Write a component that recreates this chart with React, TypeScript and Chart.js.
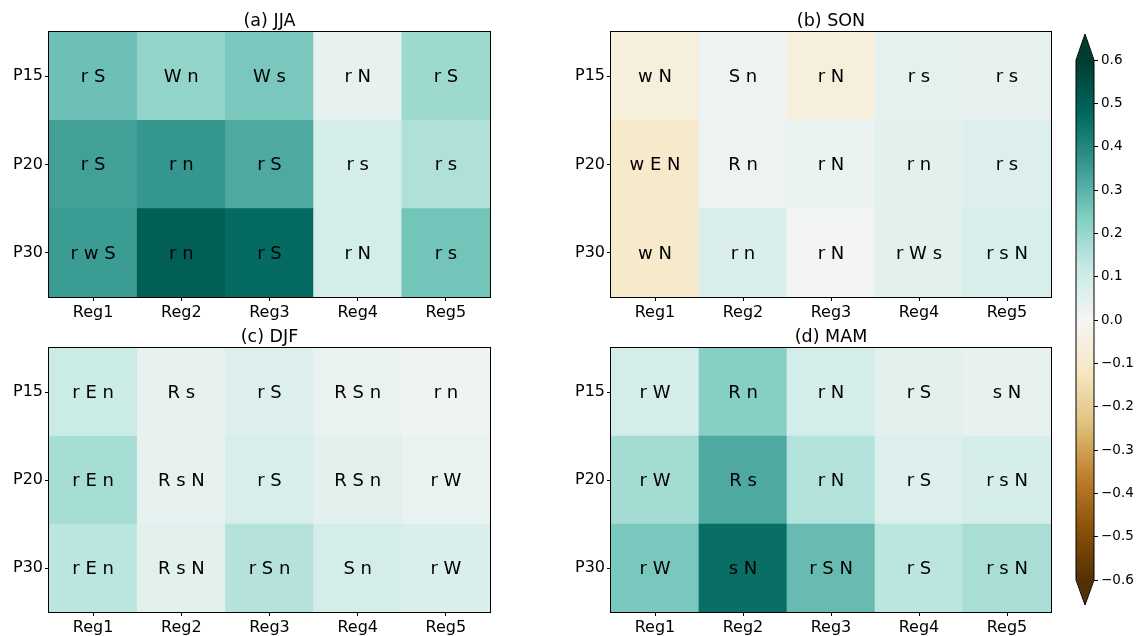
import React, { useEffect, useRef } from 'react';
import { Chart, registerables } from 'chart.js';

Chart.register(...registerables);

// ---------- data ----------
const regions = ['Reg1', 'Reg2', 'Reg3', 'Reg4', 'Reg5'];
const periods = ['P15', 'P20', 'P30'];

// rows: P15, P20, P30 ; columns: Reg1..Reg5
const jjaValues = [
  [0.27, 0.21, 0.25, 0.04, 0.19],
  [0.34, 0.36, 0.32, 0.08, 0.16],
  [0.35, 0.50, 0.47, 0.09, 0.26],
];
const jjaMarks = [
  ['r S', 'W n', 'W s', 'r N', 'r S'],
  ['r S', 'r n', 'r S', 'r s', 'r s'],
  ['r w S', 'r n', 'r S', 'r N', 'r s'],
];

const sonValues = [
  [-0.06, 0.02, -0.06, 0.045, 0.04],
  [-0.10, 0.02, 0.025, 0.05, 0.065],
  [-0.10, 0.07, 0.005, 0.05, 0.075],
];
const sonMarks = [
  ['w N', 'S n', 'r N', 'r s', 'r s'],
  ['w E N', 'R n', 'r N', 'r n', 'r s'],
  ['w N', 'r n', 'r N', 'r W s', 'r s N'],
];

const djfValues = [
  [0.11, 0.04, 0.065, 0.03, 0.015],
  [0.175, 0.04, 0.075, 0.05, 0.035],
  [0.14, 0.05, 0.15, 0.085, 0.07],
];
const djfMarks = [
  ['r E n', 'R s', 'r S', 'R S n', 'r n'],
  ['r E n', 'R s N', 'r S', 'R S n', 'r W'],
  ['r E n', 'R s N', 'r S n', 'S n', 'r W'],
];

const mamValues = [
  [0.085, 0.23, 0.085, 0.05, 0.04],
  [0.18, 0.32, 0.155, 0.065, 0.08],
  [0.25, 0.46, 0.28, 0.14, 0.17],
];
const mamMarks = [
  ['r W', 'R n', 'r N', 'r S', 's N'],
  ['r W', 'R s', 'r N', 'r S', 'r s N'],
  ['r W', 's N', 'r S N', 'r S', 'r s N'],
];

const vMin = -0.6;
const vMax = 0.6;
const cbarStep = 0.1;

// BrBG colour map control colours
const brbgStops = [
  [84, 48, 5], [140, 81, 10], [191, 129, 45], [223, 194, 125], [246, 232, 195],
  [245, 245, 245], [199, 234, 229], [128, 205, 193], [53, 151, 143], [1, 102, 94], [0, 60, 48],
];

// ---------- helpers ----------
const W = 1137;
const H = 636;
const FONT = "'DejaVu Sans', 'Noto Sans', sans-serif";

function brbgAt(t: number): string {
  const tt = Math.max(0, Math.min(1, t));
  const pos = tt * (brbgStops.length - 1);
  const i = Math.min(brbgStops.length - 2, Math.floor(pos));
  const f = pos - i;
  const a = brbgStops[i];
  const b = brbgStops[i + 1];
  const c = a.map((av, k) => Math.round(av + (b[k] - av) * f));
  return `rgb(${c[0]},${c[1]},${c[2]})`;
}
function colorFor(v: number): string {
  return brbgAt((v - vMin) / (vMax - vMin));
}

const cellTextPlugin = {
  id: 'cellText',
  afterDatasetsDraw(chart: any) {
    const ctx = chart.ctx;
    ctx.save();
    ctx.fillStyle = '#000';
    ctx.font = `18px ${FONT}`;
    ctx.textAlign = 'center';
    ctx.textBaseline = 'middle';
    chart.data.datasets.forEach((ds: any, di: number) => {
      const meta = chart.getDatasetMeta(di);
      meta.data.forEach((bar: any, i: number) => {
        const p = bar.getProps(['x', 'y', 'base'], true);
        ctx.fillText(ds.cellText[i], p.x, (p.y + p.base) / 2 + 1);
      });
    });
    ctx.restore();
  },
  afterDraw(chart: any) {
    const { ctx, chartArea: ca } = chart;
    ctx.save();
    ctx.strokeStyle = '#000';
    ctx.lineWidth = 1;
    ctx.strokeRect(Math.round(ca.left) - 0.5, Math.round(ca.top) - 0.5, Math.round(ca.right - ca.left) + 1, Math.round(ca.bottom - ca.top) + 1);
    ctx.fillStyle = '#000';
    ctx.font = `17.5px ${FONT}`;
    ctx.textAlign = 'center';
    ctx.textBaseline = 'middle';
    ctx.fillText(chart.options.plugins.panelTitle.text, (ca.left + ca.right) / 2, ca.top - 11);
    ctx.restore();
  },
};

function heatmapConfig(title: string, values: number[][], marks: string[][], area: number[]) {
  const [L, T, R, B] = area;
  const yW = 44;
  const xH = 26;
  const order = [2, 1, 0]; // bottom row first
  return {
    type: 'bar',
    data: {
      labels: regions,
      datasets: order.map((ri) => ({
        label: periods[ri],
        data: values[ri].map(() => 1),
        backgroundColor: values[ri].map(colorFor),
        borderWidth: 0,
        barPercentage: 1,
        categoryPercentage: 1,
        cellText: marks[ri],
      })),
    },
    options: {
      responsive: false,
      animation: false,
      devicePixelRatio: 1,
      events: [],
      layout: { padding: { left: L - yW, top: T, right: W - R, bottom: H - B - xH } },
      plugins: {
        legend: { display: false },
        tooltip: { enabled: false },
        panelTitle: { text: title },
      },
      scales: {
        x: {
          stacked: true,
          grid: { offset: false, drawOnChartArea: false, drawTicks: true, tickLength: 4, color: '#000', lineWidth: 1 },
          border: { display: false },
          ticks: { color: '#000', font: { family: FONT, size: 16 }, padding: 2, maxRotation: 0, autoSkip: false },
          afterFit: (s: any) => { s.height = xH; },
        },
        y: {
          stacked: true,
          min: 0,
          max: 3,
          afterBuildTicks: (s: any) => { s.ticks = [0.5, 1.5, 2.5].map((v) => ({ value: v })); },
          grid: { drawOnChartArea: false, drawTicks: true, tickLength: 4, color: '#000', lineWidth: 1 },
          border: { display: false },
          ticks: {
            color: '#000',
            font: { family: FONT, size: 16 },
            padding: 2,
            callback: (v: number) => periods[2 - Math.floor(v)],
          },
          afterFit: (s: any) => { s.width = yW; },
        },
      },
    },
    plugins: [cellTextPlugin],
  };
}

const cbarPlugin = {
  id: 'cbarExt',
  beforeDatasetsDraw(chart: any) {
    const { ctx, chartArea: ca } = chart;
    const mid = (ca.left + ca.right) / 2;
    ctx.save();
    ctx.fillStyle = brbgAt(1);
    ctx.beginPath();
    ctx.moveTo(ca.left, ca.top + 1);
    ctx.lineTo(mid, ca.top - 26);
    ctx.lineTo(ca.right, ca.top + 1);
    ctx.closePath();
    ctx.fill();
    ctx.fillStyle = brbgAt(0);
    ctx.beginPath();
    ctx.moveTo(ca.left, ca.bottom - 1);
    ctx.lineTo(mid, ca.bottom + 25);
    ctx.lineTo(ca.right, ca.bottom - 1);
    ctx.closePath();
    ctx.fill();
    ctx.restore();
  },
  afterDatasetsDraw(chart: any) {
    const { ctx, chartArea: ca } = chart;
    const mid = (ca.left + ca.right) / 2;
    ctx.save();
    ctx.strokeStyle = '#000';
    ctx.lineWidth = 1;
    ctx.beginPath();
    ctx.moveTo(ca.left, ca.top);
    ctx.lineTo(mid, ca.top - 26);
    ctx.lineTo(ca.right, ca.top);
    ctx.lineTo(ca.right, ca.bottom);
    ctx.lineTo(mid, ca.bottom + 25);
    ctx.lineTo(ca.left, ca.bottom);
    ctx.closePath();
    ctx.stroke();
    ctx.restore();
  },
};

function cbarConfig() {
  const L = 1076;
  const T = 60;
  const R = 1094;
  const B = 580;
  const yW = W - R;
  return {
    type: 'bar',
    data: {
      labels: [''],
      datasets: [{
        data: [[vMin, vMax]],
        borderWidth: 0,
        barPercentage: 1,
        categoryPercentage: 1,
        backgroundColor: (c: any) => {
          const ca = c.chart.chartArea;
          if (!ca) return brbgAt(0.5);
          const g = c.chart.ctx.createLinearGradient(0, ca.bottom, 0, ca.top);
          for (let i = 0; i < brbgStops.length; i++) {
            const s = brbgStops[i];
            g.addColorStop(i / (brbgStops.length - 1), `rgb(${s[0]},${s[1]},${s[2]})`);
          }
          return g;
        },
      }],
    },
    options: {
      responsive: false,
      animation: false,
      devicePixelRatio: 1,
      events: [],
      layout: { padding: { left: L, top: T, right: 0, bottom: H - B } },
      plugins: { legend: { display: false }, tooltip: { enabled: false } },
      scales: {
        x: { display: false },
        y: {
          position: 'right',
          min: vMin,
          max: vMax,
          grid: { drawOnChartArea: false, drawTicks: true, tickLength: 4, color: '#000', lineWidth: 1 },
          border: { display: false },
          ticks: {
            stepSize: cbarStep,
            color: '#000',
            padding: 3,
            font: { family: FONT, size: 13.5 },
            callback: (v: number) => {
              if (Math.abs(v) < 1e-9) return '0.0';
              return (v < 0 ? '\u2212' : '') + Math.abs(v).toFixed(1);
            },
          },
          afterFit: (s: any) => { s.width = yW; },
        },
      },
    },
    plugins: [cbarPlugin],
  };
}

function ChartCanvas({ make }: { make: () => any }) {
  const ref = useRef<HTMLCanvasElement | null>(null);
  useEffect(() => {
    if (!ref.current) return;
    const chart = new Chart(ref.current, make());
    return () => chart.destroy();
  }, []);
  return (
    <canvas
      ref={ref}
      width={W}
      height={H}
      style={{ position: 'absolute', left: 0, top: 0, width: W, height: H }}
    />
  );
}

export default function App() {
  return (
    <div style={{ position: 'fixed', left: 0, top: 0, width: W, height: H, background: '#fff' }}>
      <ChartCanvas make={() => heatmapConfig('(a) JJA', jjaValues, jjaMarks, [49, 32, 490, 297])} />
      <ChartCanvas make={() => heatmapConfig('(b) SON', sonValues, sonMarks, [611, 32, 1051, 297])} />
      <ChartCanvas make={() => heatmapConfig('(c) DJF', djfValues, djfMarks, [49, 348, 490, 612])} />
      <ChartCanvas make={() => heatmapConfig('(d) MAM', mamValues, mamMarks, [611, 348, 1051, 612])} />
      <ChartCanvas make={cbarConfig} />
    </div>
  );
}
